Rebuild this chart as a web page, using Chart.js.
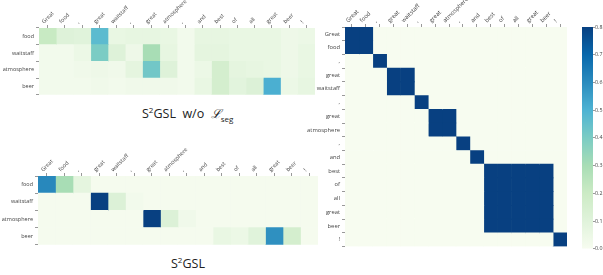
<!DOCTYPE html>
<html>
<head>
<meta charset="utf-8">
<script src="https://cdn.jsdelivr.net/npm/chart.js@4.4.1/dist/chart.umd.min.js"></script>
<style>
  body { margin: 0; background: #fff; width: 603px; height: 275px; position: relative; overflow: hidden; font-family: "Open Sans", sans-serif; }
  canvas { position: absolute; }
  .title { position: absolute; font-size: 12.5px; color: #222; white-space: nowrap; }
  .title sup { font-size: 8px; vertical-align: 5px; }
  .title sub { font-size: 8px; }
  .title i { font-family: "DejaVu Serif", serif; }
</style>
</head>
<body>
<canvas id="topChart" style="left:0;top:0"></canvas>
<canvas id="bottomChart" style="left:0;top:140px"></canvas>
<canvas id="matrixChart" style="left:300px;top:0"></canvas>
<canvas id="colorbar" style="left:575px;top:0"></canvas>
<div class="title" style="left:142px;top:104px">S<sup>2</sup>GSL&nbsp; w/o &nbsp;<i>ℒ</i><sub>seg</sub></div>
<div class="title" style="left:171px;top:254px">S<sup>2</sup>GSL</div>
<script>
// Tokens of the sentence (columns) and aspect words (rows)
const tokens = ['Great', 'food', ',', 'great', 'waitstaff', ',', 'great', 'atmosphere', ',', 'and', 'best', 'of', 'all', 'great', 'beer', '!'];
const aspects = ['food', 'waitstaff', 'atmosphere', 'beer'];

// Attention without L_seg (rows = aspects)
const withoutSeg = [
    [0.21, 0.11, 0.10, 0.47, 0.06, 0.07, 0.07, 0.06, 0.02, 0.07, 0.07, 0.06, 0.06, 0.06, 0.04, 0.05],
    [0.02, 0.02, 0.05, 0.40, 0.11, 0.04, 0.30, 0.07, 0.02, 0.08, 0.08, 0.06, 0.06, 0.06, 0.04, 0.06],
    [0.02, 0.02, 0.03, 0.04, 0.03, 0.08, 0.42, 0.11, 0.02, 0.05, 0.16, 0.08, 0.07, 0.06, 0.04, 0.06],
    [0.02, 0.02, 0.02, 0.03, 0.02, 0.03, 0.03, 0.03, 0.02, 0.06, 0.16, 0.09, 0.12, 0.51, 0.05, 0.07]
];

// Attention of S2GSL
const withSeg = [
    [0.61, 0.30, 0.08, 0.01, 0.01, 0.01, 0.01, 0.01, 0.01, 0.01, 0.01, 0.01, 0.01, 0.01, 0.01, 0.01],
    [0.01, 0.01, 0.01, 0.80, 0.12, 0.02, 0.01, 0.01, 0.01, 0.01, 0.01, 0.01, 0.01, 0.01, 0.01, 0.01],
    [0.01, 0.01, 0.01, 0.01, 0.01, 0.01, 0.80, 0.12, 0.03, 0.01, 0.01, 0.01, 0.01, 0.01, 0.01, 0.01],
    [0.01, 0.01, 0.01, 0.01, 0.01, 0.01, 0.01, 0.01, 0.01, 0.01, 0.06, 0.05, 0.10, 0.59, 0.16, 0.01]
];

// Segment matrix (token x token)
const segMatrix = [
    [0.8, 0.8, 0, 0, 0, 0, 0, 0, 0, 0, 0, 0, 0, 0, 0, 0],
    [0.8, 0.8, 0, 0, 0, 0, 0, 0, 0, 0, 0, 0, 0, 0, 0, 0],
    [0, 0, 0.8, 0, 0, 0, 0, 0, 0, 0, 0, 0, 0, 0, 0, 0],
    [0, 0, 0, 0.8, 0.8, 0, 0, 0, 0, 0, 0, 0, 0, 0, 0, 0],
    [0, 0, 0, 0.8, 0.8, 0, 0, 0, 0, 0, 0, 0, 0, 0, 0, 0],
    [0, 0, 0, 0, 0, 0.8, 0, 0, 0, 0, 0, 0, 0, 0, 0, 0],
    [0, 0, 0, 0, 0, 0, 0.8, 0.8, 0, 0, 0, 0, 0, 0, 0, 0],
    [0, 0, 0, 0, 0, 0, 0.8, 0.8, 0, 0, 0, 0, 0, 0, 0, 0],
    [0, 0, 0, 0, 0, 0, 0, 0, 0.8, 0, 0, 0, 0, 0, 0, 0],
    [0, 0, 0, 0, 0, 0, 0, 0, 0, 0.8, 0, 0, 0, 0, 0, 0],
    [0, 0, 0, 0, 0, 0, 0, 0, 0, 0, 0.8, 0.8, 0.8, 0.8, 0.8, 0],
    [0, 0, 0, 0, 0, 0, 0, 0, 0, 0, 0.8, 0.8, 0.8, 0.8, 0.8, 0],
    [0, 0, 0, 0, 0, 0, 0, 0, 0, 0, 0.8, 0.8, 0.8, 0.8, 0.8, 0],
    [0, 0, 0, 0, 0, 0, 0, 0, 0, 0, 0.8, 0.8, 0.8, 0.8, 0.8, 0],
    [0, 0, 0, 0, 0, 0, 0, 0, 0, 0, 0.8, 0.8, 0.8, 0.8, 0.8, 0],
    [0, 0, 0, 0, 0, 0, 0, 0, 0, 0, 0, 0, 0, 0, 0, 0.8]
];

const colorbarTicks = [0.0, 0.1, 0.2, 0.3, 0.4, 0.5, 0.6, 0.7, 0.8];
const vmax = 0.8;

// GnBu colormap
const gnbu = ['#f7fcf0', '#e0f3db', '#ccebc5', '#a8ddb5', '#7bccc4', '#4eb3d3', '#2b8cbe', '#0868ac', '#084081'];

function hexToRgb(h) {
    return [parseInt(h.slice(1, 3), 16), parseInt(h.slice(3, 5), 16), parseInt(h.slice(5, 7), 16)];
}

function colorFor(v) {
    let t = Math.max(0, Math.min(1, v / vmax)) * (gnbu.length - 1);
    const i = Math.min(Math.floor(t), gnbu.length - 2);
    const f = t - i;
    const a = hexToRgb(gnbu[i]), b = hexToRgb(gnbu[i + 1]);
    const c = a.map((x, k) => Math.round(x + (b[k] - x) * f));
    return `rgb(${c[0]}, ${c[1]}, ${c[2]})`;
}

const tickColor = '#444';

// Build a heatmap as stacked horizontal bars, one dataset per column
function makeHeatmap(canvasId, w, h, rows, cols, values, yWidth, topHeight, pad, fontSize) {
    const canvas = document.getElementById(canvasId);
    canvas.width = w;
    canvas.height = h;
    canvas.style.width = w + 'px';
    canvas.style.height = h + 'px';

    const font = { size: fontSize, family: 'Open Sans' };

    const datasets = cols.map((col, j) => ({
        label: col,
        data: rows.map(() => 1),
        backgroundColor: rows.map((r, i) => colorFor(values[i][j])),
        borderWidth: 0,
        barPercentage: 1,
        categoryPercentage: 1
    }));

    return new Chart(canvas, {
        type: 'bar',
        data: { labels: rows, datasets: datasets },
        options: {
            indexAxis: 'y',
            responsive: false,
            animation: false,
            layout: { padding: pad },
            plugins: { legend: { display: false }, tooltip: { enabled: false } },
            scales: {
                x: { type: 'linear', stacked: true, min: 0, max: cols.length, display: false },
                y: {
                    stacked: true,
                    grid: { drawOnChartArea: false, tickLength: 3, color: '#999' },
                    border: { display: false },
                    ticks: { font: font, color: tickColor, padding: 2 },
                    afterFit: (scale) => { scale.width = yWidth; }
                },
                x2: {
                    type: 'category',
                    position: 'top',
                    labels: cols,
                    offset: true,
                    grid: { drawOnChartArea: false, tickLength: 3, color: '#999', offset: false },
                    border: { display: false },
                    ticks: { font: font, color: tickColor, minRotation: 45, maxRotation: 45, autoSkip: false, padding: 0 },
                    afterFit: (scale) => { scale.height = topHeight; }
                }
            }
        }
    });
}

makeHeatmap('topChart', 320, 100, aspects, tokens, withoutSeg, 39, 28, { left: 0, top: 0, right: 5, bottom: 3 }, 5.5);
makeHeatmap('bottomChart', 322, 110, aspects, tokens, withSeg, 38, 36, { left: 0, top: 0, right: 4, bottom: 3 }, 5.5);
makeHeatmap('matrixChart', 272, 252, tokens, tokens, segMatrix, 45, 27, { left: 0, top: 0, right: 5, bottom: 3 }, 5.8);

// Colorbar: a single floating bar filled with the colormap gradient
(function () {
    const canvas = document.getElementById('colorbar');
    canvas.width = 28;
    canvas.height = 252;
    canvas.style.width = '28px';
    canvas.style.height = '252px';

    new Chart(canvas, {
        type: 'bar',
        data: {
            labels: ['scale'],
            datasets: [{
                data: [[colorbarTicks[0], colorbarTicks[colorbarTicks.length - 1]]],
                backgroundColor: (ctx) => {
                    const area = ctx.chart.chartArea;
                    if (!area) return gnbu[0];
                    const g = ctx.chart.ctx.createLinearGradient(0, area.bottom, 0, area.top);
                    gnbu.forEach((c, i) => g.addColorStop(i / (gnbu.length - 1), c));
                    return g;
                },
                borderWidth: 0,
                barPercentage: 1,
                categoryPercentage: 1
            }]
        },
        options: {
            responsive: false,
            animation: false,
            layout: { padding: { left: 7, top: 27, right: 0, bottom: 3 } },
            plugins: { legend: { display: false }, tooltip: { enabled: false } },
            scales: {
                x: { display: false },
                y: {
                    position: 'right',
                    min: 0,
                    max: vmax,
                    afterBuildTicks: (scale) => { scale.ticks = colorbarTicks.map(v => ({ value: v })); },
                    grid: { drawOnChartArea: false, tickLength: 2, color: '#999' },
                    border: { display: false },
                    ticks: { font: { size: 5.3, family: 'Open Sans' }, color: tickColor, padding: 0, callback: (v) => Number(v).toFixed(1) },
                    afterFit: (scale) => { scale.width = 10; }
                }
            }
        }
    });
})();
</script>
</body>
</html>
